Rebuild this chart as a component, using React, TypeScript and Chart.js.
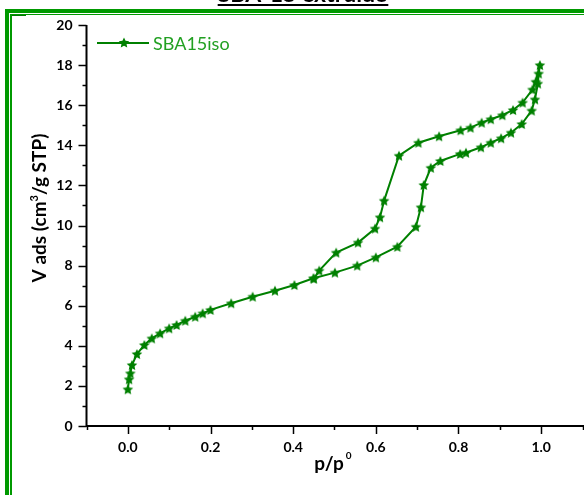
import React, { useEffect, useRef } from "react";
import { Chart, registerables } from "chart.js";

Chart.register(...registerables);

// ---- data ----
const adsorptionP = [0.0, 0.003, 0.006, 0.01, 0.022, 0.04, 0.058, 0.078, 0.1, 0.118, 0.139, 0.163, 0.181, 0.2, 0.25, 0.302, 0.356, 0.403, 0.449, 0.501, 0.555, 0.6, 0.652, 0.697, 0.709, 0.716, 0.733, 0.756, 0.804, 0.818, 0.854, 0.878, 0.903, 0.927, 0.953, 0.977, 0.985, 0.992, 0.994, 0.997];
const adsorptionV = [1.83, 2.33, 2.63, 3.04, 3.59, 4.04, 4.37, 4.62, 4.87, 5.04, 5.25, 5.45, 5.62, 5.79, 6.12, 6.45, 6.75, 7.03, 7.37, 7.65, 8.0, 8.41, 8.94, 9.94, 10.91, 12.02, 12.88, 13.22, 13.57, 13.63, 13.9, 14.13, 14.35, 14.63, 15.06, 15.73, 16.29, 17.08, 17.58, 18.0];
const desorptionP = [0.987, 0.979, 0.955, 0.932, 0.906, 0.878, 0.856, 0.829, 0.805, 0.753, 0.703, 0.656, 0.62, 0.61, 0.598, 0.557, 0.504, 0.463, 0.45];
const desorptionV = [17.17, 16.78, 16.13, 15.76, 15.5, 15.3, 15.13, 14.88, 14.75, 14.45, 14.13, 13.48, 11.24, 10.41, 9.85, 9.15, 8.65, 7.75, 7.35];

const seriesLabel = "SBA15iso";
const xTickLabels = ["0.0", "0.2", "0.4", "0.6", "0.8", "1.0"];
const xTickValues = [0, 0.2, 0.4, 0.6, 0.8, 1.0];
const yTickValues = [0, 2, 4, 6, 8, 10, 12, 14, 16, 18, 20];
const pageTitle = "SBA-15 extruido";

const GREEN = "#008000";
const BORDER_GREEN = "#009900";
const FONT = "Lato, 'Open Sans', sans-serif";

function makeStar(R: number, color: string): HTMLCanvasElement {
  const size = Math.ceil(R * 2 + 2);
  const c = document.createElement("canvas");
  c.width = size;
  c.height = size;
  const ctx = c.getContext("2d")!;
  drawStarPath(ctx, size / 2, size / 2 + 0.5, R);
  ctx.fillStyle = color;
  ctx.fill();
  return c;
}

function drawStarPath(ctx: CanvasRenderingContext2D, cx: number, cy: number, R: number) {
  ctx.beginPath();
  for (let i = 0; i < 10; i++) {
    const a = -Math.PI / 2 + (i * Math.PI) / 5;
    const r = i % 2 === 0 ? R : R * 0.48;
    const x = cx + r * Math.cos(a);
    const y = cy + r * Math.sin(a);
    if (i === 0) ctx.moveTo(x, y);
    else ctx.lineTo(x, y);
  }
  ctx.closePath();
}

const decorPlugin = {
  id: "decor",
  afterDraw(chart: any) {
    const ctx: CanvasRenderingContext2D = chart.ctx;
    const xs = chart.scales.x;
    const ys = chart.scales.y;
    ctx.save();

    // frame border
    ctx.fillStyle = BORDER_GREEN;
    ctx.fillRect(5, 9, 4, 500);
    ctx.fillRect(5, 9, 600, 4);
    ctx.fillRect(10, 14, 2, 500);
    ctx.fillRect(10, 14, 600, 1);
    ctx.fillStyle = "#007a00";
    ctx.fillRect(12, 15, 14, 1);

    // title (cut off at top)
    ctx.fillStyle = "#000";
    ctx.font = `bold 23px ${FONT}`;
    ctx.textAlign = "center";
    ctx.textBaseline = "alphabetic";
    ctx.fillText(pageTitle, 303, 2);
    const tw = ctx.measureText(pageTitle).width;
    ctx.fillRect(303 - tw / 2, 4, tw, 2);

    // axes
    const x0 = xs.getPixelForValue(-0.1);
    const x1 = xs.getPixelForValue(1.1);
    const y0 = ys.getPixelForValue(0);
    const y1 = ys.getPixelForValue(20);
    ctx.strokeStyle = "#000";
    ctx.lineWidth = 2;
    ctx.beginPath();
    ctx.moveTo(x0, y1);
    ctx.lineTo(x0, y0);
    ctx.lineTo(x1 + 2, y0);
    ctx.stroke();

    // y ticks
    ctx.lineWidth = 1.5;
    for (let v = 0; v <= 20; v++) {
      const y = Math.round(ys.getPixelForValue(v)) + 0.5;
      const len = v % 2 === 0 ? 8 : 4;
      ctx.beginPath();
      ctx.moveTo(x0, y);
      ctx.lineTo(x0 - len, y);
      ctx.stroke();
    }
    // x ticks
    for (let i = -1; i <= 11; i++) {
      const v = i / 10;
      const x = Math.round(xs.getPixelForValue(v)) + 0.5;
      const len = i % 2 === 0 ? 8 : 4;
      ctx.beginPath();
      ctx.moveTo(x, y0);
      ctx.lineTo(x, y0 + len);
      ctx.stroke();
    }

    // tick labels
    ctx.fillStyle = "#000";
    ctx.font = `bold 14px ${FONT}`;
    ctx.textAlign = "right";
    ctx.textBaseline = "middle";
    yTickValues.forEach((v) => {
      ctx.fillText(String(v), x0 - 14, ys.getPixelForValue(v));
    });
    ctx.textAlign = "center";
    xTickValues.forEach((v, i) => {
      ctx.fillText(xTickLabels[i], xs.getPixelForValue(v), y0 + 21);
    });

    // x title p/p°
    ctx.font = `bold 19px ${FONT}`;
    ctx.textAlign = "left";
    ctx.textBaseline = "alphabetic";
    const xt = "p/p";
    const xtw = ctx.measureText(xt).width;
    const xtx = 329 - xtw / 2;
    ctx.fillText(xt, xtx, 470);
    ctx.font = `bold 10px ${FONT}`;
    ctx.fillText("0", xtx + xtw + 2, 459);

    // y title
    ctx.save();
    ctx.translate(46, 208);
    ctx.rotate(-Math.PI / 2);
    const p1 = "V ads (cm";
    const p2 = "3";
    const p3 = "/g STP)";
    const big = `bold 19px ${FONT}`;
    const small = `bold 11px ${FONT}`;
    ctx.font = big;
    const w1 = ctx.measureText(p1).width;
    const w3 = ctx.measureText(p3).width;
    ctx.font = small;
    const w2 = ctx.measureText(p2).width;
    let sx = -(w1 + w2 + w3) / 2;
    ctx.textAlign = "left";
    ctx.textBaseline = "alphabetic";
    ctx.font = big;
    ctx.fillText(p1, sx, 0);
    sx += w1;
    ctx.font = small;
    ctx.fillText(p2, sx, -8);
    sx += w2;
    ctx.font = big;
    ctx.fillText(p3, sx, 0);
    ctx.restore();

    // legend
    const ly = 43;
    ctx.strokeStyle = GREEN;
    ctx.lineWidth = 2;
    ctx.beginPath();
    ctx.moveTo(97, ly);
    ctx.lineTo(149, ly);
    ctx.stroke();
    ctx.fillStyle = GREEN;
    drawStarPath(ctx, 124, ly, 5.5);
    ctx.fill();
    ctx.fillStyle = "#22a022";
    ctx.font = `18px ${FONT}`;
    ctx.textAlign = "left";
    ctx.textBaseline = "middle";
    ctx.fillText(seriesLabel, 153, ly + 1);

    ctx.restore();
  },
};

export default function App() {
  const ref = useRef<HTMLCanvasElement | null>(null);
  useEffect(() => {
    if (!ref.current) return;
    const star = makeStar(5.6, GREEN);
    const points = [
      ...adsorptionP.map((p, i) => ({ x: p, y: adsorptionV[i] })),
      ...desorptionP.map((p, i) => ({ x: p, y: desorptionV[i] })),
    ];
    const chart = new Chart(ref.current, {
      type: "scatter",
      data: {
        datasets: [
          {
            label: seriesLabel,
            data: points,
            showLine: true,
            borderColor: GREEN,
            borderWidth: 2,
            pointStyle: star as any,
            pointRadius: 5,
            pointHoverRadius: 5,
            backgroundColor: GREEN,
            clip: false as any,
          },
        ],
      },
      options: {
        animation: false,
        responsive: false,
        devicePixelRatio: 1,
        layout: { autoPadding: false, padding: { left: 86.5, top: 25, right: 1.5, bottom: 69 } },
        plugins: { legend: { display: false }, tooltip: { enabled: false }, title: { display: false } },
        scales: {
          x: { type: "linear", min: -0.1, max: 1.1, display: false },
          y: { type: "linear", min: 0, max: 20, display: false },
        },
      },
      plugins: [decorPlugin],
    });
    return () => chart.destroy();
  }, []);
  return (
    <div style={{ position: "absolute", left: 0, top: 0, width: 584, height: 495, overflow: "hidden", background: "#fff" }}>
      <canvas ref={ref} width={584} height={495} style={{ width: 584, height: 495, display: "block" }} />
    </div>
  );
}
